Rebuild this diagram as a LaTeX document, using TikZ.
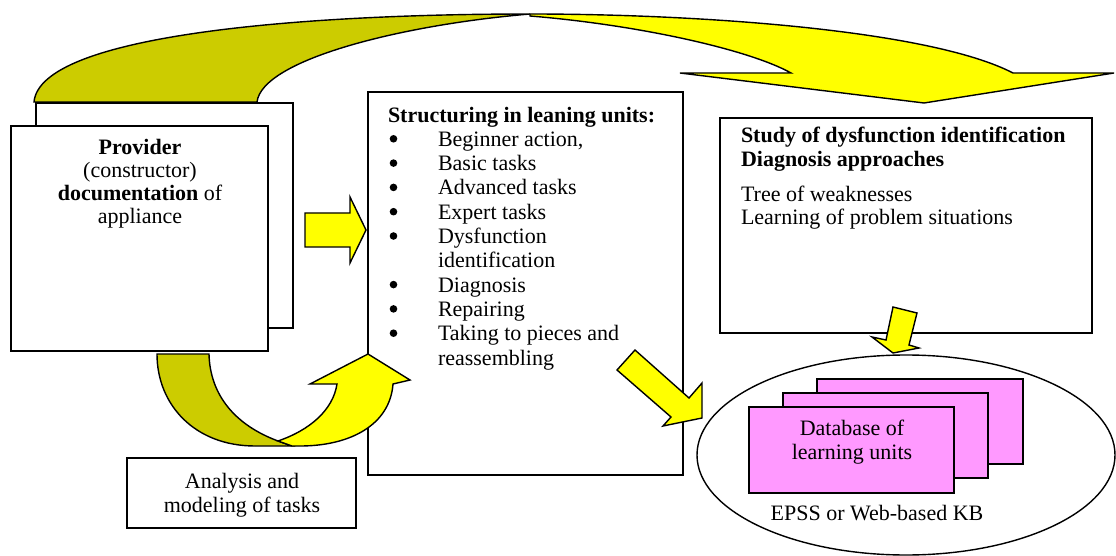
\documentclass[tikz,border=0pt]{standalone}
\usepackage{fontspec}
\setmainfont{Liberation Serif}
\usetikzlibrary{shapes.geometric}
\definecolor{olivey}{HTML}{CCCC00}
\definecolor{yel}{HTML}{FFFF00}
\definecolor{pinkbox}{HTML}{FF99FF}
\newcommand{\bitem}{\hspace*{50pt}}
\begin{document}
\begin{tikzpicture}[x=1pt,y=-1pt,line width=1.4pt,line join=miter,
  box/.style={draw,fill=white,rectangle,inner sep=0pt,outer sep=0pt},
  dbbox/.style={draw,fill=pinkbox,rectangle,inner sep=0pt,outer sep=0pt,minimum width=205pt,minimum height=85pt},
  txt/.style={inner sep=0pt,outer sep=0pt,align=center},
  olivearrow/.style={draw,fill=olivey},
  yelarrow/.style={draw,fill=yel}]
\useasboundingbox (0,0) rectangle (1116,556);
% boxes
\node[box,minimum width=257pt,minimum height=225pt] (provback) at (164.5,215.5) {};
\node[box,minimum width=257pt,minimum height=225pt] (provfront) at (139.5,238.5) {};
\node[box,minimum width=315pt,minimum height=383pt] (struct) at (525.5,283.5) {};
\node[box,minimum width=372pt,minimum height=215pt] (study) at (906,225.5) {};
\node[box,minimum width=229pt,minimum height=70pt] (analysis) at (241.5,493) {};
\node[draw,fill=white,ellipse,inner sep=0pt,minimum width=418pt,minimum height=200pt] (kb) at (906,455) {};
\node[dbbox,minimum width=206pt] (db3) at (920,421.5) {};
\node[dbbox] (db2) at (885.5,435.5) {};
\node[dbbox,minimum height=86pt] (db1) at (851.5,450) {};
% top curved arrow
\path[olivearrow] (34,102) .. controls (40,35) and (300,14) .. (530,14)
  .. controls (400,25) and (262,60) .. (257,102) -- cycle;
\path[yelarrow] (530,14) .. controls (700,14) and (930,30) .. (1013,73)
  -- (1114,73) -- (924,103) -- (680,73) -- (791,73)
  .. controls (750,50) and (640,25) .. (530,16) -- cycle;
% right block arrow
\path[yelarrow] (305,213) -- (350,213) -- (350,197) -- (366,230) -- (350,263) -- (350,247) -- (305,247) -- cycle;
% bottom U arrow
\path[olivearrow] (157,354) -- (209,354) .. controls (210,395) and (235,425) .. (278,441)
  -- (292,446) -- (255,446) .. controls (195,446) and (157,405) .. (157,354) -- cycle;
\path[yelarrow] (278,441) .. controls (310,430) and (333,410) .. (337,384) -- (310,384) -- (368,354)
  -- (410,380) -- (393,384) .. controls (390,425) and (350,446) .. (300,446) -- (292,446) -- cycle;
% diagonal arrow
\path[yelarrow] (617,370) -- (635,350) -- (689,398) -- (702,383) -- (702,418) -- (663,426) -- (671,417) -- cycle;
% tilted down arrow
\path[yelarrow] (893,307) -- (917,313) -- (909,345) -- (919,348) -- (893,353) -- (872,337) -- (886,340) -- cycle;
% texts
\node[txt,anchor=base,font=\fontsize{22}{22.7}\selectfont] (provtext) at (140,223)
  {\textbf{Provider}\\(constructor)\\\textbf{documentation} of\\appliance};
\node[txt,align=left,anchor=base west,font=\fontsize{22}{24.3}\selectfont] (structtext) at (388,365)
  {\textbf{Structuring in leaning units:}\\
   \bitem Beginner action,\\
   \bitem Basic tasks\\
   \bitem Advanced tasks\\
   \bitem Expert tasks\\
   \bitem Dysfunction\\
   \bitem identification\\
   \bitem Diagnosis\\
   \bitem Repairing\\
   \bitem Taking to pieces and\\
   \bitem reassembling};
\foreach \k in {1,2,3,4,5,7,8,9}
  \fill (393.5,{365-(10-\k)*24.3-7.5}) circle (3.8pt);
\node[txt,align=left,anchor=base west,font=\fontsize{22}{23.5}\selectfont] (studytext) at (741,225)
  {\textbf{Study of dysfunction identification}\\\textbf{Diagnosis approaches}\\[11.5pt]
   Tree of weaknesses\\Learning of problem situations};
\node[txt,anchor=base,font=\fontsize{22}{24}\selectfont] (analysistext) at (242,512)
  {Analysis and\\modeling of tasks};
\node[txt,anchor=base,font=\fontsize{22}{24}\selectfont] (dbtext) at (852,459)
  {Database of\\learning units};
\node[txt,anchor=base,font=\fontsize{22}{24}\selectfont] (kbtext) at (877,520)
  {EPSS or Web-based KB};
\end{tikzpicture}
\end{document}
